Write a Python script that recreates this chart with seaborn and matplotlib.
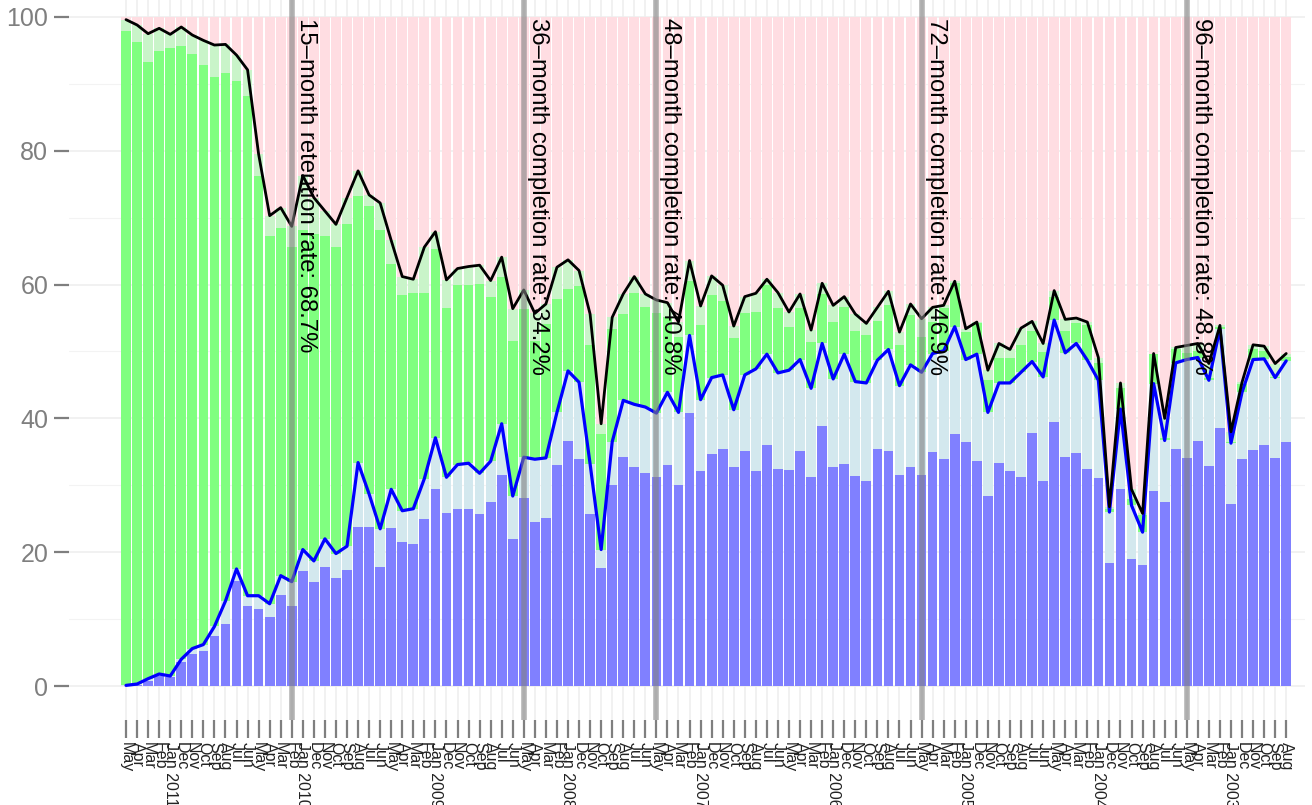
import numpy as np
import pandas as pd
import matplotlib
matplotlib.use('Agg')
import matplotlib.pyplot as plt
import matplotlib.transforms as mtransforms
import seaborn as sns

# cohorts, newest first (May 2011 ... Aug 2002)
months = pd.date_range('2002-08-01', '2011-05-01', freq='MS')[::-1]
month_labels = [d.strftime('%b') + (' %d' % d.year if d.month == 1 else '') for d in months]

# % completed (dark blue bars)
completed = [0.0, 0.2, 0.8, 1.5, 1.4, 3.6, 4.8, 5.2, 7.5, 9.3,
             15.7, 11.9, 11.5, 10.3, 13.6, 11.9, 17.2, 15.5, 17.8, 16.1,
             17.3, 23.8, 23.8, 17.8, 23.6, 21.5, 21.3, 24.9, 29.5, 25.9,
             26.4, 26.4, 25.7, 27.5, 31.5, 22.0, 28.1, 24.5, 25.1, 33.0,
             36.6, 33.9, 25.7, 17.6, 30.1, 34.3, 32.7, 31.8, 31.3, 33.1,
             30.1, 40.8, 32.1, 34.7, 35.4, 32.8, 35.2, 32.2, 36.1, 32.5,
             32.3, 35.2, 31.2, 38.9, 32.8, 33.2, 31.4, 30.7, 35.5, 35.2,
             31.6, 32.8, 31.5, 35.0, 33.9, 37.6, 36.5, 33.6, 28.4, 33.3,
             32.2, 31.3, 37.8, 30.6, 39.4, 34.3, 34.9, 32.5, 31.1, 18.4,
             29.5, 19.0, 18.1, 29.2, 27.5, 35.4, 34.1, 36.6, 32.9, 38.5,
             27.2, 34.0, 35.3, 36.1, 34.1, 36.4]

# cumulative % completed incl. light blue (blue line)
completion = [0.1, 0.3, 1.1, 1.8, 1.5, 4.0, 5.6, 6.2, 8.9, 12.7,
              17.5, 13.5, 13.5, 12.3, 16.5, 15.6, 20.4, 18.7, 22.0, 19.8,
              20.9, 33.4, 28.7, 23.5, 29.4, 26.2, 26.5, 31.0, 37.1, 31.2,
              33.1, 33.3, 31.8, 33.6, 39.2, 28.4, 34.2, 33.9, 34.1, 40.9,
              47.1, 45.4, 33.2, 20.4, 36.5, 42.7, 42.1, 41.7, 40.8, 43.9,
              40.9, 52.4, 42.8, 46.1, 46.5, 41.3, 46.5, 47.4, 49.6, 46.8,
              47.2, 48.8, 44.5, 51.2, 45.9, 49.6, 45.5, 45.3, 48.7, 50.3,
              44.9, 48.0, 46.9, 49.7, 50.1, 53.7, 48.8, 49.6, 40.9, 45.3,
              45.3, 46.9, 48.5, 46.2, 54.7, 49.8, 51.2, 48.7, 45.7, 26.0,
              41.4, 27.0, 23.0, 45.2, 36.7, 48.3, 48.8, 49.1, 45.7, 53.4,
              36.3, 43.9, 48.8, 48.9, 46.1, 48.6]

# cumulative % incl. still enrolled (green bars)
enrolled = [97.9, 96.3, 93.3, 94.9, 95.4, 95.7, 94.4, 92.8, 91.0, 91.6,
            90.4, 88.2, 76.3, 67.2, 68.5, 65.6, 68.1, 67.6, 67.2, 65.6,
            69.0, 73.3, 71.8, 68.2, 63.1, 58.4, 58.8, 58.7, 65.3, 56.5,
            59.9, 59.9, 60.1, 58.1, 61.1, 51.6, 56.3, 51.6, 54.1, 57.9,
            59.4, 59.8, 50.9, 37.7, 53.3, 55.6, 58.7, 56.6, 55.7, 55.1,
            52.2, 60.6, 54.0, 58.5, 57.6, 52.0, 55.7, 55.9, 59.9, 56.5,
            53.6, 56.5, 51.4, 58.6, 54.4, 56.6, 53.1, 52.4, 54.5, 56.9,
            50.9, 55.4, 52.1, 54.4, 56.5, 60.3, 52.9, 54.2, 45.7, 49.0,
            49.0, 50.9, 53.0, 49.9, 58.2, 53.1, 54.2, 54.0, 48.3, 26.5,
            44.5, 28.0, 25.5, 49.6, 37.0, 50.4, 49.8, 50.1, 46.0, 53.6,
            36.5, 45.2, 50.4, 50.1, 46.2, 49.2]

# retention (black line, top of light green)
retention = [99.6, 98.8, 97.5, 98.3, 97.4, 98.5, 97.3, 96.5, 95.8, 95.9,
             94.3, 92.1, 79.5, 70.3, 71.5, 68.7, 76.3, 73.0, 71.0, 69.0,
             73.0, 77.0, 73.4, 72.2, 66.6, 61.2, 60.8, 65.6, 67.9, 60.7,
             62.4, 62.7, 62.9, 60.6, 64.1, 56.4, 59.2, 55.7, 57.1, 62.6,
             63.7, 62.1, 55.6, 39.2, 55.1, 58.6, 61.2, 58.6, 57.7, 57.3,
             54.4, 63.6, 56.8, 61.3, 59.9, 53.8, 58.2, 58.7, 60.8, 58.8,
             55.9, 58.6, 53.2, 60.2, 56.9, 58.2, 55.6, 54.2, 56.6, 59.0,
             52.9, 57.1, 54.9, 56.6, 56.9, 60.5, 53.4, 54.4, 47.2, 51.2,
             50.3, 53.5, 54.5, 51.2, 59.1, 54.8, 55.0, 54.4, 49.1, 26.8,
             45.3, 29.4, 25.8, 49.7, 40.0, 50.6, 50.9, 51.2, 48.2, 53.9,
             38.0, 45.4, 51.0, 50.8, 48.2, 49.7]

marks = [(15, 'retention', '15\u2013month retention rate'),
         (36, 'completion', '36\u2013month completion rate'),
         (48, 'completion', '48\u2013month completion rate'),
         (72, 'completion', '72\u2013month completion rate'),
         (96, 'completion', '96\u2013month completion rate')]

df = pd.DataFrame({'pos': np.arange(len(months)), 'total': 100.0,
                   'completed': completed, 'completion': completion,
                   'enrolled': enrolled, 'retention': retention})

sns.set_theme(style='white')
plt.rcParams['font.family'] = ['Liberation Sans', 'DejaVu Sans']

W, H = 1312, 805
fig = plt.figure(figsize=(W / 100, H / 100), dpi=100)
ax = fig.add_axes([69 / W, (H - 719.5) / H, (1305 - 69) / W, 736 / H])

layers = [('total', '#FFDDE2'), ('retention', '#C9F4C9'), ('enrolled', '#80FF80'),
          ('completion', '#D3E8EE'), ('completed', '#8080FF')]
for col, c in layers:
    sns.barplot(data=df, x='pos', y=col, color=c, saturation=1, width=0.88,
                errorbar=None, linewidth=0, ax=ax, zorder=2)

sns.lineplot(data=df, x='pos', y='completion', color='#0000FF', linewidth=2.3, ax=ax, zorder=4)
sns.lineplot(data=df, x='pos', y='retention', color='black', linewidth=2.0, ax=ax, zorder=4)

off = mtransforms.offset_copy(ax.transData, fig=fig, x=3, y=-1, units='dots')
for p, col, lab in marks:
    ax.axvline(p, color='gray', alpha=0.6, linewidth=4, zorder=5)
    ax.text(p, 100, '%s: %.1f%%' % (lab, df[col][p]), rotation=-90, ha='left', va='top',
            fontsize=17.2, color='black', transform=off, zorder=6)

ax.set_xlim(-5.16, 106.7)
ax.set_ylim(-5, 105)
ax.set_yticks([0, 20, 40, 60, 80, 100])
ax.set_yticks([10, 30, 50, 70, 90], minor=True)
ax.set_xticks(range(len(months)))
ax.set_xticklabels(month_labels, rotation=-90, ha='center', va='top', fontsize=11.5, color='#222222')
ax.tick_params(axis='x', length=13, width=1.6, color='#7f7f7f', pad=3, bottom=True)
ax.tick_params(axis='y', which='major', length=11, width=1.6, color='#7f7f7f', labelsize=18,
               labelcolor='#7f7f7f', pad=4, left=True)
ax.tick_params(axis='y', which='minor', length=0)
ax.grid(True, which='major', color='#eeeeee', linewidth=1.1)
ax.grid(True, which='minor', axis='y', color='#f3f3f3', linewidth=0.8)
ax.set_axisbelow(True)
for s in ax.spines.values():
    s.set_visible(False)
ax.set_xlabel('')
ax.set_ylabel('%', fontsize=20, color='black')
ax.yaxis.set_label_coords(-0.053, 0.52)

fig.savefig('out.png', dpi=100)
